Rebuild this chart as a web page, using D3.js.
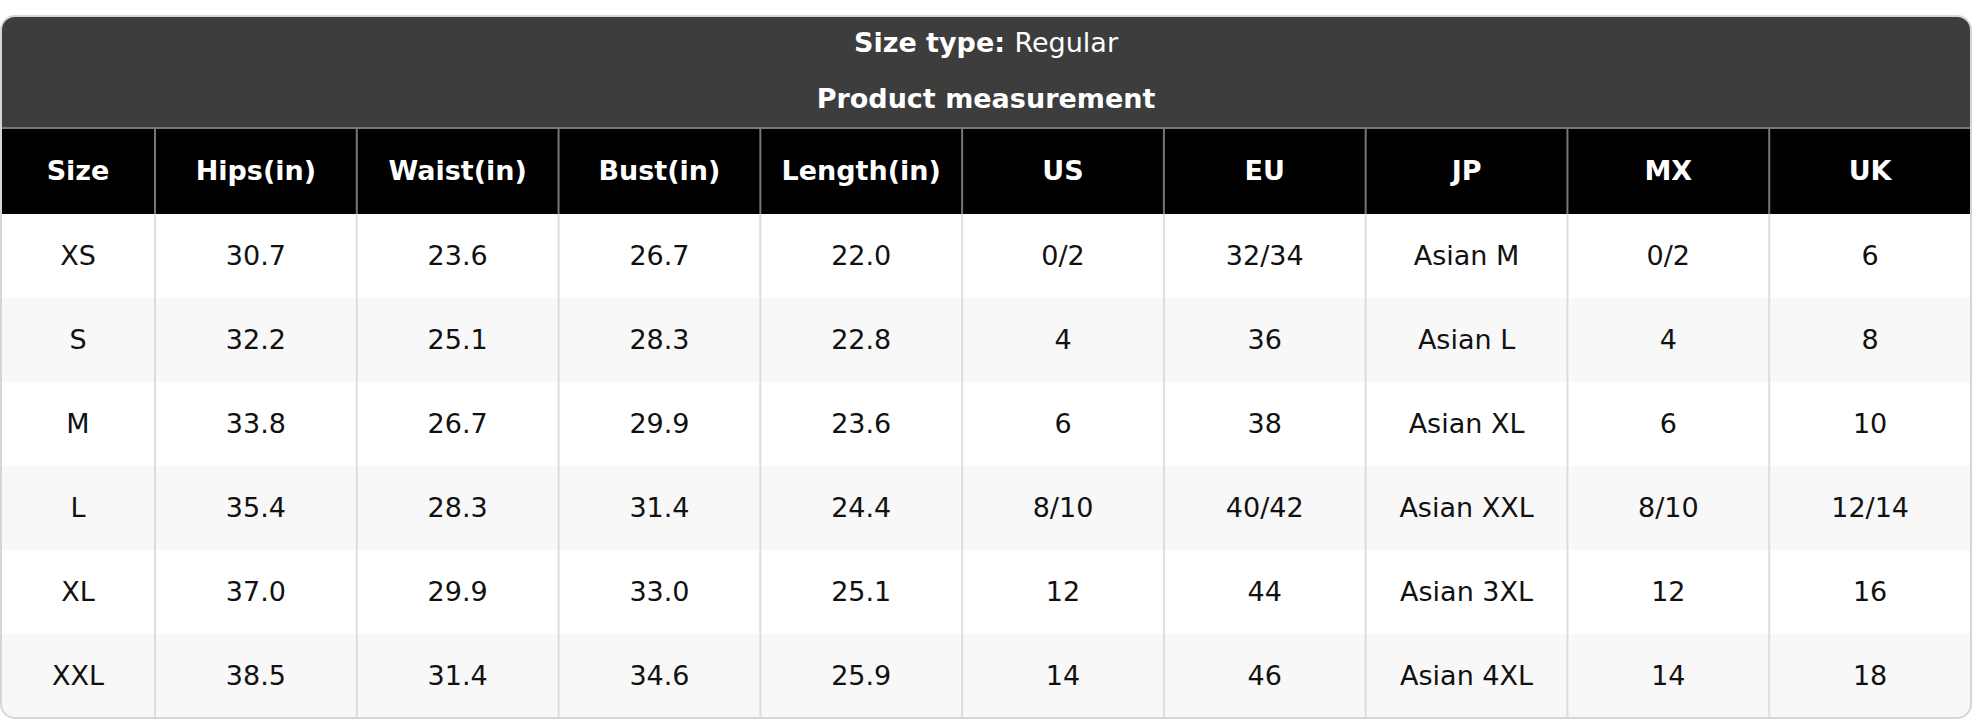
<!DOCTYPE html>
<html><head><meta charset="utf-8">
<script src="https://cdn.jsdelivr.net/npm/d3@7"></script>
<style>body{margin:0;background:#fff;}svg{display:block;font-family:"DejaVu Sans",sans-serif;}</style>
</head><body><svg id="c" width="1972" height="720"></svg>
<script>
const columns = ["Size","Hips(in)","Waist(in)","Bust(in)","Length(in)","US","EU","JP","MX","UK"];
const sizes = ["XS","S","M","L","XL","XXL"];
const hips = ["30.7","32.2","33.8","35.4","37.0","38.5"];
const waist = ["23.6","25.1","26.7","28.3","29.9","31.4"];
const bust = ["26.7","28.3","29.9","31.4","33.0","34.6"];
const length = ["22.0","22.8","23.6","24.4","25.1","25.9"];
const us = ["0/2","4","6","8/10","12","14"];
const eu = ["32/34","36","38","40/42","44","46"];
const jp = ["Asian M","Asian L","Asian XL","Asian XXL","Asian 3XL","Asian 4XL"];
const mx = ["0/2","4","6","8/10","12","14"];
const uk = ["6","8","10","12/14","16","18"];
const series = [sizes,hips,waist,bust,length,us,eu,jp,mx,uk];

const svg = d3.select("#c");
const L=1, R=1971, T=16, B=718, headTop=128, headBot=214;
const firstW = 154;
const x = d3.scaleLinear().domain([1, columns.length]).range([L+firstW, R]);
const colX = i => i===0 ? L : x(i);
const colW = i => i===0 ? firstW : (x(2)-x(1));
const y = d3.scaleBand().domain(d3.range(sizes.length)).range([headBot, B]);

const clip = svg.append("clipPath").attr("id","cp").append("rect")
  .attr("x",L).attr("y",T).attr("width",R-L).attr("height",B-T).attr("rx",14);
const g = svg.append("g").attr("clip-path","url(#cp)");
g.append("rect").attr("x",L).attr("y",T).attr("width",R-L).attr("height",headTop-T).attr("fill","#3d3d3d");
g.append("rect").attr("x",L).attr("y",headTop).attr("width",R-L).attr("height",headBot-headTop).attr("fill","#000");
g.selectAll("rect.row").data(sizes).join("rect").attr("class","row")
  .attr("x",L).attr("y",(d,i)=>y(i)).attr("width",R-L).attr("height",y.bandwidth())
  .attr("fill",(d,i)=>i%2?"#f8f8f8":"#fff");
// vertical lines
d3.range(1,columns.length).forEach(i=>{
  g.append("line").attr("x1",colX(i)).attr("x2",colX(i)).attr("y1",headTop).attr("y2",headBot).attr("stroke","#777").attr("stroke-width",2);
  g.append("line").attr("x1",colX(i)).attr("x2",colX(i)).attr("y1",headBot).attr("y2",B).attr("stroke","#ddd").attr("stroke-width",2);
});
g.append("line").attr("x1",L).attr("x2",R).attr("y1",headTop).attr("y2",headTop).attr("stroke","#777").attr("stroke-width",2);
svg.append("rect").attr("x",L).attr("y",T).attr("width",R-L).attr("height",B-T).attr("rx",14)
  .attr("fill","none").attr("stroke","#d6d6d6").attr("stroke-width",2);

const t = svg.append("text").attr("x",986).attr("y",52).attr("text-anchor","middle").attr("font-size",27).attr("fill","#fff");
t.append("tspan").attr("font-weight","bold").text("Size type: ");
t.append("tspan").text("Regular");
svg.append("text").attr("x",986).attr("y",108).attr("text-anchor","middle").attr("font-size",27).attr("font-weight","bold").attr("fill","#fff").text("Product measurement");

svg.selectAll("text.h").data(columns).join("text").attr("class","h")
  .attr("x",(d,i)=>colX(i)+colW(i)/2).attr("y",(headTop+headBot)/2).attr("dy","0.35em")
  .attr("text-anchor","middle").attr("font-size",27).attr("font-weight","bold").attr("fill","#fff").text(d=>d);
series.forEach((s,ci)=>{
  svg.selectAll("text.c"+ci).data(s).join("text").attr("class","c"+ci)
    .attr("x",colX(ci)+colW(ci)/2).attr("y",(d,i)=>y(i)+y.bandwidth()/2).attr("dy","0.35em")
    .attr("text-anchor","middle").attr("font-size",27).attr("fill","#111").text(d=>d);
});
</script></body></html>
